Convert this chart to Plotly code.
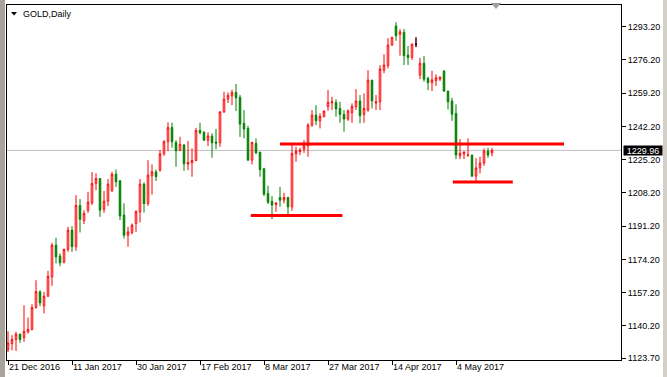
import plotly.graph_objects as go

# ---- data (GOLD, Daily) ----
opens = [1128.0,1131.2,1133.3,1136.0,1134.3,1137.2,1138.4,1149.6,1157.6,1150.5,
         1155.4,1165.3,1181.5,1175.9,1172.8,1179.3,1189.2,1180.7,1201.8,1194.0,
         1199.4,1203.2,1213.1,1215.6,1199.8,1204.0,1209.3,1217.8,1214.4,1196.9,
         1186.6,1188.0,1192.6,1198.5,1212.7,1202.8,1217.0,1219.0,1219.9,1228.2,
         1234.4,1241.7,1234.0,1230.0,1232.7,1223.0,1223.6,1224.8,1240.2,1239.2,
         1235.1,1237.3,1234.2,1233.9,1249.6,1256.2,1257.9,1259.6,1257.1,1243.8,
         1241.2,1225.0,1233.5,1229.1,1220.6,1208.0,1203.9,1202.3,1205.9,1204.5,
         1205.9,1201.1,1228.2,1229.4,1230.5,1232.3,1242.9,1248.0,1245.1,1247.2,
         1252.3,1254.3,1254.5,1251.4,1248.4,1246.0,1249.2,1252.3,1255.2,1248.4,
         1250.6,1265.9,1254.2,1254.8,1271.0,1273.3,1283.8,1293.6,1289.3,1290.3,
         1278.7,1277.5,1284.2,1268.5,1274.5,1266.8,1264.6,1265.6,1266.4,1270.5,
         1260.3,1255.2,1248.9,1227.2,1228.2,1227.5,1227.6,1216.9,1221.0,1223.5,
         1229.6,1228.6]
highs = [1137.5,1135.5,1137.2,1136.3,1150.8,1144.5,1151.3,1163.6,1158.5,1157.6,
         1168.4,1182.7,1185.3,1177.3,1179.8,1190.9,1191.2,1207.1,1205.1,1199.4,
         1208.8,1218.9,1218.2,1215.6,1209.2,1215.3,1219.0,1220.2,1214.8,1202.9,
         1190.9,1192.6,1199.4,1215.3,1213.6,1225.0,1222.8,1220.2,1230.1,1235.2,
         1244.3,1244.1,1235.2,1236.9,1233.2,1234.7,1231.0,1241.5,1244.1,1239.8,
         1239.2,1238.7,1240.9,1250.1,1259.9,1259.6,1261.0,1263.9,1258.3,1250.6,
         1242.5,1234.4,1236.1,1229.1,1221.1,1211.9,1206.6,1203.6,1211.3,1208.3,
         1206.2,1232.7,1231.8,1231.3,1235.2,1243.8,1250.6,1253.1,1248.9,1250.2,
         1260.8,1257.4,1256.1,1254.8,1250.6,1251.0,1254.0,1261.3,1258.3,1259.1,
         1271.0,1265.9,1258.3,1273.6,1279.1,1287.3,1287.8,1295.5,1291.9,1292.0,
         1283.3,1284.7,1287.8,1277.3,1278.2,1267.6,1270.7,1268.8,1267.5,1271.0,
         1260.3,1256.9,1253.5,1235.7,1229.2,1236.1,1227.6,1225.9,1226.7,1231.0,
         1231.3,1231.3]
lows = [1126.8,1127.8,1127.4,1131.5,1132.1,1136.3,1138.0,1149.1,1150.3,1146.6,
        1155.1,1160.7,1172.2,1170.8,1172.2,1178.1,1178.1,1178.6,1188.0,1192.3,
        1198.0,1202.0,1209.6,1196.0,1198.0,1201.5,1208.8,1211.3,1194.3,1184.9,
        1180.7,1187.0,1188.3,1193.1,1198.2,1201.6,1207.4,1214.3,1219.0,1227.2,
        1229.6,1231.3,1221.6,1229.6,1219.5,1219.9,1216.5,1224.5,1238.2,1234.9,
        1232.2,1226.2,1230.6,1231.8,1249.2,1254.2,1253.1,1250.1,1236.9,1236.1,
        1224.5,1222.8,1228.1,1216.5,1206.6,1202.5,1194.8,1198.6,1201.1,1202.9,
        1197.4,1199.1,1224.1,1227.6,1228.7,1226.7,1242.0,1242.9,1241.2,1246.9,
        1250.2,1250.6,1247.2,1244.1,1239.5,1245.1,1244.1,1250.6,1243.8,1244.1,
        1249.7,1251.4,1250.6,1250.6,1269.4,1271.9,1283.5,1286.0,1278.4,1273.6,
        1273.6,1276.2,1282.8,1266.4,1265.1,1260.8,1260.3,1262.9,1265.4,1259.9,
        1250.9,1245.1,1225.5,1225.5,1225.5,1226.7,1216.5,1213.9,1218.2,1222.1,
        1226.2,1226.9]
closes = [1131.5,1133.3,1136.0,1133.3,1137.4,1138.5,1149.6,1157.8,1152.0,1155.4,
          1165.6,1181.5,1175.5,1172.5,1179.3,1189.2,1180.7,1201.8,1194.7,1197.7,
          1203.5,1213.1,1215.6,1199.4,1204.0,1212.7,1217.8,1213.9,1196.4,1186.6,
          1188.3,1191.8,1198.6,1212.7,1202.8,1217.3,1219.0,1216.5,1228.2,1234.4,
          1241.7,1234.4,1229.8,1233.0,1223.1,1223.8,1224.8,1240.2,1239.0,1235.2,
          1237.3,1233.9,1233.7,1249.6,1256.2,1258.1,1259.6,1256.9,1243.4,1240.9,
          1225.0,1234.1,1228.7,1220.2,1207.6,1203.5,1202.0,1203.0,1204.5,1205.9,
          1201.1,1228.4,1229.6,1230.1,1232.3,1242.9,1248.0,1245.1,1247.3,1250.1,
          1254.5,1254.8,1251.2,1248.4,1246.0,1250.1,1252.5,1255.2,1247.7,1251.4,
          1265.9,1255.3,1254.8,1271.6,1273.6,1283.8,1287.8,1288.6,1290.6,1278.4,
          1277.5,1284.2,1284.2,1274.5,1266.4,1264.6,1266.0,1267.1,1267.5,1260.3,
          1254.8,1248.5,1227.6,1228.5,1229.2,1227.6,1216.8,1221.0,1223.5,1229.6,
          1227.6,1229.96]
bars = list(range(len(closes)))
doji_bar = 102

date_ticks = [0, 16, 32, 48, 64, 80, 96, 112]
date_labels = ["21 Dec 2016", "11 Jan 2017", "30 Jan 2017", "17 Feb 2017",
               "8 Mar 2017", "27 Mar 2017", "14 Apr 2017", "4 May 2017"]
price_ticks = [1293.2, 1276.2, 1259.2, 1242.2, 1225.2, 1208.2, 1191.2,
               1174.2, 1157.2, 1140.2, 1123.7]
price_labels = ["1293.20", "1276.20", "1259.20", "1242.20", "1225.20", "1208.20",
                "1191.20", "1174.20", "1157.20", "1140.20", "1123.70"]
last_price = 1229.96

# user-drawn horizontal levels: (start bar, end bar, price)
level_start = [68, 60.7, 111.2]
level_end = [139, 83.6, 126.2]
level_price = [1233.2, 1196.7, 1213.75]

FONT = "Liberation Sans"
W, H = 667, 377
L, R, T, B = 7, 46, 5, 17
PW, PH = W - L - R, H - T - B

def px(xp):
    return (xp - L) / PW

def py(yp):
    return (H - B - yp) / PH

fig = go.Figure()
fig.add_trace(go.Candlestick(
    x=bars, open=opens, high=highs, low=lows, close=closes,
    increasing=dict(line=dict(color="#ff0000", width=1), fillcolor="#ffffff"),
    decreasing=dict(line=dict(color="#008000", width=1), fillcolor="#008000"),
    whiskerwidth=0, showlegend=False, hoverinfo="x+y"))
fig.add_trace(go.Candlestick(
    x=[bars[doji_bar]], open=[opens[doji_bar]], high=[highs[doji_bar]],
    low=[lows[doji_bar]], close=[closes[doji_bar]],
    increasing=dict(line=dict(color="#000000", width=1), fillcolor="#000000"),
    decreasing=dict(line=dict(color="#000000", width=1), fillcolor="#000000"),
    whiskerwidth=0, showlegend=False))

shapes = []
# bid line
shapes.append(dict(type="line", xref="paper", yref="y", x0=0, x1=1,
                   y0=last_price, y1=last_price,
                   line=dict(color="#c0c0c0", width=1), layer="below"))
for s, e, p in zip(level_start, level_end, level_price):
    shapes.append(dict(type="line", xref="x", yref="y", x0=s, x1=e, y0=p, y1=p,
                       line=dict(color="#ff0000", width=3), layer="above"))
# window frame bands
shapes.append(dict(type="rect", xref="paper", yref="paper",
                   x0=px(0), x1=px(5), y0=py(H), y1=py(0),
                   fillcolor="#a8a49c", line=dict(width=0)))
shapes.append(dict(type="rect", xref="paper", yref="paper",
                   x0=px(663), x1=px(667), y0=py(H), y1=py(0),
                   fillcolor="#d4d0c8", line=dict(width=0)))
# title triangle
shapes.append(dict(type="path", xref="paper", yref="paper",
                   path=f"M {px(11)} {py(12)} L {px(17)} {py(12)} L {px(14)} {py(15.5)} Z",
                   fillcolor="#000000", line=dict(width=0)))
# chart shift marker
shapes.append(dict(type="path", xref="paper", yref="paper",
                   path=f"M {px(491)} {py(3)} L {px(501)} {py(3)} L {px(496)} {py(9)} Z",
                   fillcolor="#a0a0a0", line=dict(width=0)))

annotations = []
for t, lab in zip(date_ticks, date_labels):
    annotations.append(dict(x=t, y=0, xref="x", yref="paper", text=lab,
                            xanchor="left", yanchor="top", yshift=-1,
                            showarrow=False, borderpad=0,
                            font=dict(family=FONT, size=9, color="#000000")))
annotations.append(dict(x=px(22), y=py(14), xref="paper", yref="paper",
                        text="GOLD,Daily", xanchor="left", yanchor="middle",
                        showarrow=False, borderpad=0,
                        font=dict(family=FONT, size=9, color="#000000")))
annotations.append(dict(x=1, y=last_price, xref="paper", yref="y",
                        text="1229.96", xanchor="left", yanchor="middle",
                        xshift=2, showarrow=False, bgcolor="#000000",
                        width=38, height=9, borderpad=0, align="center",
                        font=dict(family=FONT, size=9, color="#ffffff")))

fig.update_layout(
    width=W, height=H, autosize=False,
    margin=dict(l=L, r=R, t=T, b=B, pad=0),
    paper_bgcolor="#ffffff", plot_bgcolor="#ffffff",
    boxgap=0.45,
    shapes=shapes, annotations=annotations,
    showlegend=False,
    xaxis=dict(range=[-0.25, 153.25], rangeslider=dict(visible=False),
               showgrid=False, zeroline=False, showline=True, mirror=True,
               linecolor="#000000", linewidth=1, ticks="outside", ticklen=4,
               tickcolor="#000000", tickvals=date_ticks, showticklabels=False),
    yaxis=dict(range=[1122.8, 1304.3], side="right", showgrid=False,
               zeroline=False, showline=True, mirror=True, linecolor="#000000",
               linewidth=1, ticks="outside", ticklen=4, tickcolor="#000000",
               tickvals=price_ticks, ticktext=price_labels,
               tickfont=dict(family=FONT, size=9, color="#000000")),
)

fig.write_html("out.html")
